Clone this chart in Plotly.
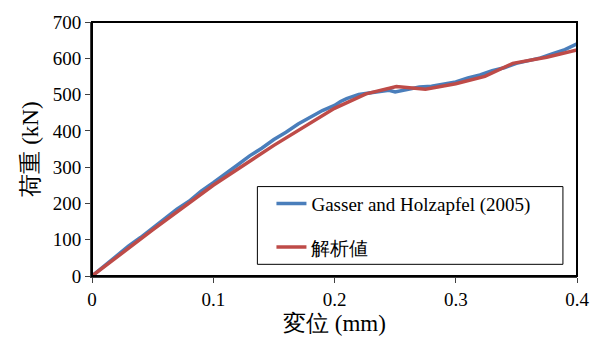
import plotly.graph_objects as go

blue_x = [0, 0.01, 0.02, 0.03, 0.04, 0.05, 0.06, 0.07, 0.08, 0.09, 0.10, 0.11, 0.12, 0.13,
          0.14, 0.15, 0.16, 0.17, 0.18, 0.19, 0.20, 0.205, 0.21, 0.22, 0.23, 0.24, 0.245,
          0.25, 0.255, 0.26, 0.27, 0.28, 0.29, 0.30, 0.31, 0.32, 0.33, 0.34, 0.35, 0.36,
          0.37, 0.38, 0.39, 0.40]
blue_y = [0, 28, 54, 82, 106, 133, 157, 184, 206, 234, 257, 283, 306, 331,
          352, 376, 396, 419, 437, 456, 470, 481, 489, 500, 505, 509, 512,
          507, 511, 514, 521, 523, 529, 535, 546, 554, 566, 574, 586, 594,
          601, 613, 624, 640]
red_x = [0, 0.05, 0.10, 0.15, 0.20, 0.226, 0.251, 0.275, 0.30, 0.324, 0.347, 0.375, 0.40]
red_y = [0, 127, 250, 360, 462, 502, 522, 515, 530, 550, 586, 603, 623]
x_ticks = [0, 0.1, 0.2, 0.3, 0.4]
x_labels = ["0", "0.1", "0.2", "0.3", "0.4"]

fig = go.Figure()
fig.add_trace(go.Scatter(x=blue_x, y=blue_y, mode="lines", name="Gasser and Holzapfel (2005)",
                         line=dict(color="#4a7ebb", width=3.5), legendgroup="a"))
fig.add_trace(go.Scatter(x=red_x, y=red_y, mode="lines", name="解析値",
                         line=dict(color="#be4b48", width=3.5), legendgroup="b"))

font_fam = "Liberation Serif, Times New Roman, serif"
fig.update_layout(
    width=601, height=344,
    margin=dict(l=92, r=22, t=17, b=66),
    plot_bgcolor="white", paper_bgcolor="white",
    font=dict(family=font_fam, size=19, color="black"),
    showlegend=True,
    legend=dict(x=0.37, y=0.36, xanchor="left", yanchor="top",
                bgcolor="rgba(0,0,0,0)", borderwidth=0,
                tracegroupgap=16, font=dict(family=font_fam, size=19)),
    xaxis=dict(range=[0, 0.4], tickvals=x_ticks, ticktext=x_labels, showgrid=False, zeroline=False,
               showline=True, linecolor="#404040", linewidth=2, ticks="outside",
               ticklen=5, tickcolor="#404040",
               title=dict(text="変位 (mm)", standoff=6)),
    yaxis=dict(range=[0, 700], dtick=100, showgrid=False, zeroline=False,
               showline=True, linecolor="#404040", linewidth=2, ticks="outside",
               ticklen=5, tickcolor="#404040",
               title=dict(text="荷重 (kN)", standoff=8)),
    shapes=[dict(type="rect", xref="paper", yref="paper", x0=0, y0=0, x1=1, y1=1,
                 line=dict(color="black", width=2)),
            dict(type="rect", xref="paper", yref="paper", x0=0.341, y0=0.046, x1=0.971, y1=0.352,
                 line=dict(color="black", width=1))],
)
fig.write_html("out.html")
